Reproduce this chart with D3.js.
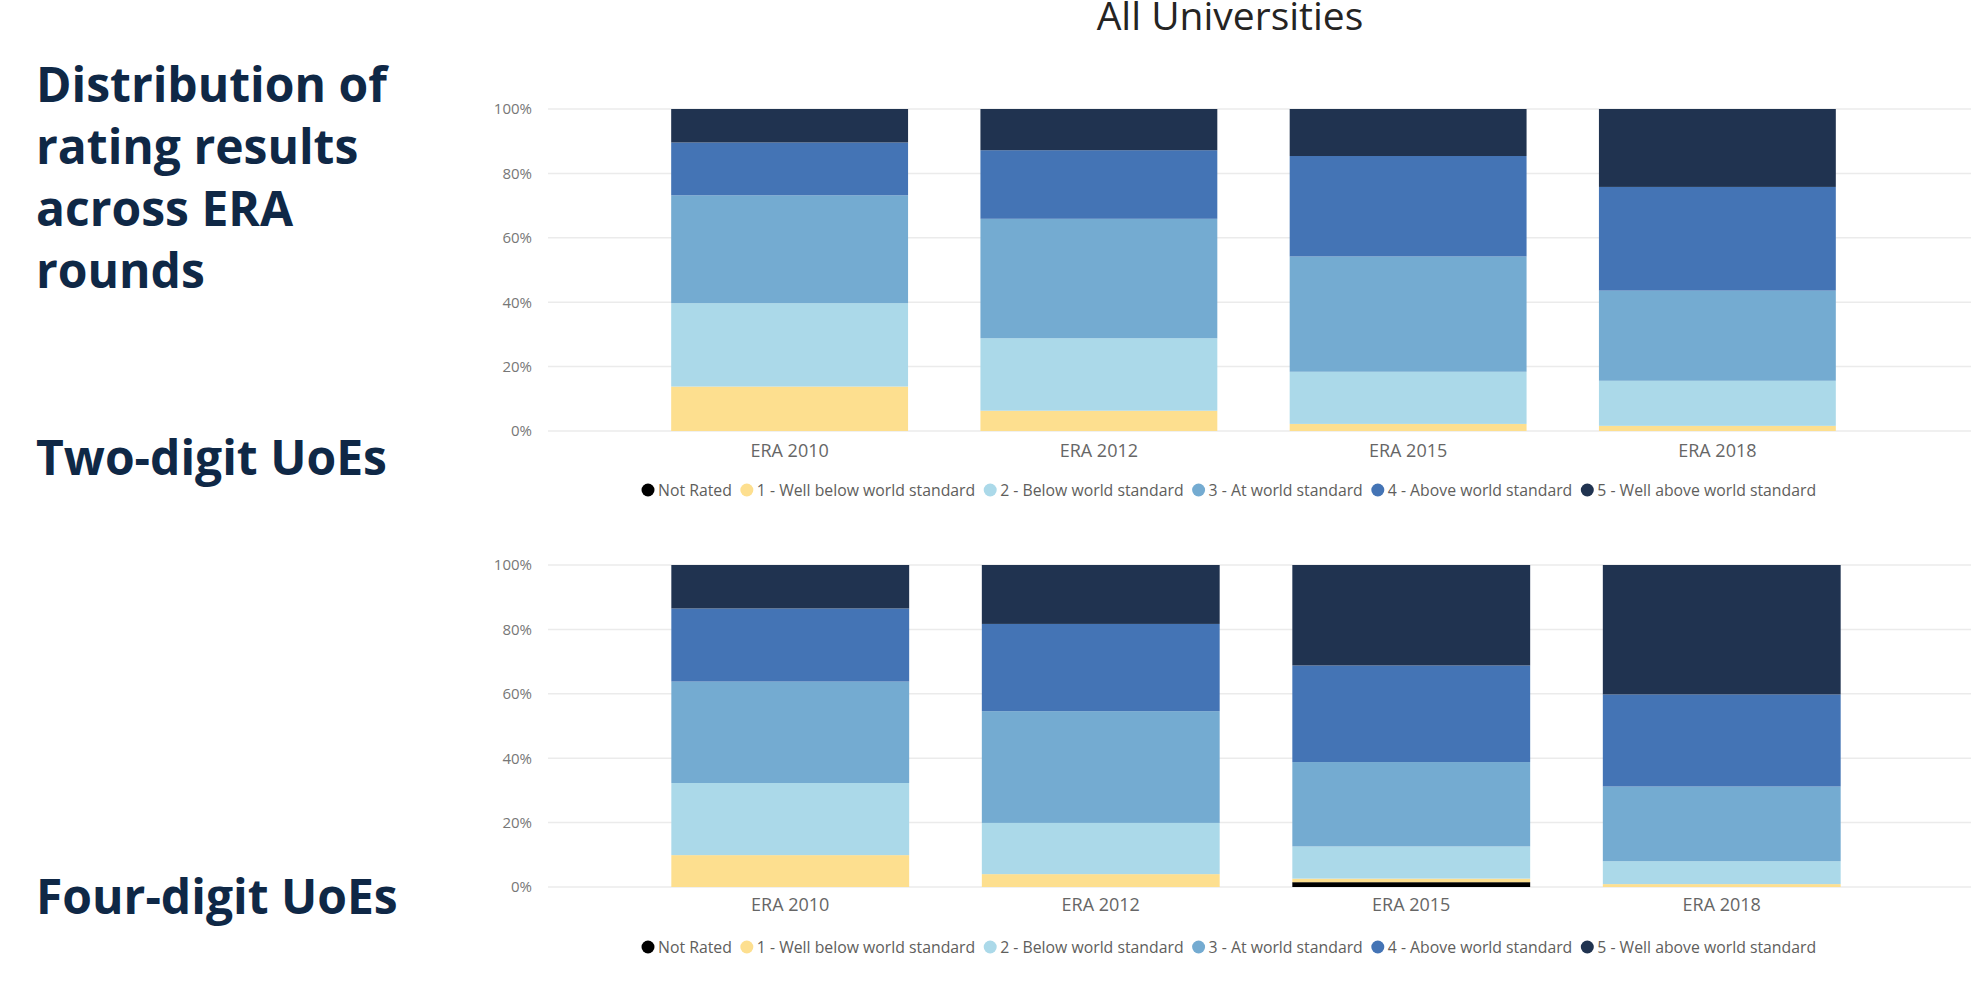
<!DOCTYPE html>
<html>
<head>
<meta charset="utf-8">
<script src="https://d3js.org/d3.v7.min.js"></script>
<style>
  body { margin: 0; background: #fff; }
  text { font-family: "Open Sans", sans-serif; }
</style>
</head>
<body>
<svg></svg>
<script>
    // rounds on the x axis
    const rounds = ["ERA 2010", "ERA 2012", "ERA 2015", "ERA 2018"];
    const ratings = ["Not Rated", "1 - Well below world standard", "2 - Below world standard",
        "3 - At world standard", "4 - Above world standard", "5 - Well above world standard"];
    const yTicks = [0, 20, 40, 60, 80, 100];

    // two-digit UoEs, % of ratings per round
    const twoNotRated = [0, 0, 0, 0];
    const twoWellBelow = [13.8, 6.3, 2.2, 1.6];
    const twoBelow = [25.9, 22.5, 16.2, 14.0];
    const twoAt = [33.5, 37.1, 35.8, 28.0];
    const twoAbove = [16.4, 21.3, 31.2, 32.2];
    const twoWellAbove = [10.4, 12.8, 14.6, 24.2];

    // four-digit UoEs
    const fourNotRated = [0, 0, 1.5, 0];
    const fourWellBelow = [9.9, 4.0, 1.1, 0.9];
    const fourBelow = [22.4, 15.9, 10.0, 7.1];
    const fourAt = [31.5, 34.7, 26.2, 23.2];
    const fourAbove = [22.7, 27.1, 30.0, 28.6];
    const fourWellAbove = [13.5, 18.3, 31.2, 40.2];

    const colors = ["#000000", "#fddf8f", "#abd9e9", "#74abd1", "#4474b5", "#203350"];

    const W = 1980, H = 981;
    const svg = d3.select("svg").attr("width", W).attr("height", H);

    // title (clipped at the top, as in the source slide)
    svg.append("text")
        .attr("x", 1230).attr("y", 30)
        .attr("text-anchor", "middle")
        .attr("font-size", 39)
        .attr("fill", "#252423")
        .text("All Universities");

    // left headings
    const headings = [
        {lines: ["Distribution of", "rating results", "across ERA", "rounds"], y: 102},
        {lines: ["Two-digit UoEs"], y: 475},
        {lines: ["Four-digit UoEs"], y: 914}
    ];
    headings.forEach(h => {
        h.lines.forEach((l, i) => {
            svg.append("text")
                .attr("x", 36).attr("y", h.y + i * 62)
                .attr("font-size", 48)
                .attr("font-weight", "bold")
                .attr("fill", "#0f2846")
                .text(l);
        });
    });

    function toRows(series) {
        return rounds.map((r, i) => {
            const row = {round: r};
            ratings.forEach((k, j) => row[k] = series[j][i]);
            return row;
        });
    }

    function drawChart(series, top, bottom, xRange, labelY, legendY) {
        const g = svg.append("g");
        const x = d3.scaleBand().domain(rounds).range(xRange).paddingInner(0.234).paddingOuter(0.117);
        const y = d3.scaleLinear().domain([0, 100]).range([bottom, top]);

        // gridlines
        g.selectAll(".grid").data(yTicks).join("line")
            .attr("x1", 548).attr("x2", 1971)
            .attr("y1", d => y(d)).attr("y2", d => y(d))
            .attr("stroke", "#ebebeb").attr("stroke-width", 1.5);

        // y axis
        const ya = g.append("g").attr("transform", "translate(538,0)")
            .call(d3.axisLeft(y).tickValues(yTicks).tickFormat(d => d + "%").tickSize(0).tickPadding(6));
        ya.select(".domain").remove();
        ya.selectAll("text").attr("font-size", 15).attr("fill", "#777")
            .attr("font-family", "Open Sans, sans-serif");

        const stacked = d3.stack().keys(ratings)(toRows(series));
        g.selectAll(".layer").data(stacked).join("g")
            .attr("fill", (d, i) => colors[i])
            .selectAll("rect").data(d => d).join("rect")
            .attr("x", d => x(d.data.round))
            .attr("width", x.bandwidth())
            .attr("y", d => y(d[1]))
            .attr("height", d => y(d[0]) - y(d[1]));

        // x labels
        g.selectAll(".xl").data(rounds).join("text")
            .attr("x", d => x(d) + x.bandwidth() / 2)
            .attr("y", labelY)
            .attr("text-anchor", "middle")
            .attr("font-size", 18).attr("fill", "#666")
            .text(d => d);

        // legend
        const lg = g.append("g").attr("transform", `translate(648,${legendY})`);
        let cx = 0;
        ratings.forEach((r, i) => {
            lg.append("circle").attr("cx", cx).attr("cy", 0).attr("r", 6.5).attr("fill", colors[i]);
            const t = lg.append("text").attr("x", cx + 10).attr("y", 5.5)
                .attr("font-size", 15.8).attr("fill", "#605e5c").text(r);
            cx += 10 + t.node().getComputedTextLength() + 15;
        });
    }

    drawChart([twoNotRated, twoWellBelow, twoBelow, twoAt, twoAbove, twoWellAbove],
        109, 431, [635, 1872], 457, 490);
    drawChart([fourNotRated, fourWellBelow, fourBelow, fourAt, fourAbove, fourWellAbove],
        565, 887, [635, 1877], 911, 947);
</script>
</body>
</html>
